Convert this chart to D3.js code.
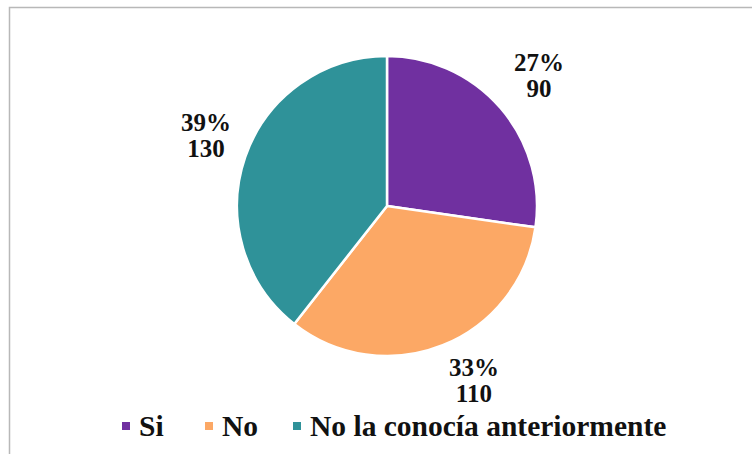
<!DOCTYPE html>
<html>
<head>
<meta charset="utf-8">
<script src="https://cdn.jsdelivr.net/npm/d3@7"></script>
<style>
  html, body { margin: 0; padding: 0; background: #fff; }
  svg { display: block; }
  text { font-family: "Liberation Serif", "Times New Roman", serif; font-weight: bold; fill: #111; }
</style>
</head>
<body>
<svg id="chart" width="752" height="454"></svg>
<script>
// Respuestas por categoría
const categories = ["Si", "No", "No la conocía anteriormente"];
const values = [90, 110, 130];
const colors = ["#7030a0", "#fca865", "#2f9299"];

const svg = d3.select("#chart");
const W = 752, H = 454;

// Chart area frame
svg.append("rect")
  .attr("x", 9.5).attr("y", 7.5)
  .attr("width", W + 10).attr("height", H + 10)
  .attr("fill", "#fff")
  .attr("stroke", "#b8b8b8").attr("stroke-width", 1.5);

const cx = 387, cy = 206, r = 150;
const total = d3.sum(values);

const pie = d3.pie().sort(null).value(d => d)(values);
const arc = d3.arc().innerRadius(0).outerRadius(r);

const g = svg.append("g").attr("transform", `translate(${cx},${cy})`);
g.selectAll("path.slice")
  .data(pie)
  .join("path")
  .attr("class", "slice")
  .attr("d", arc)
  .attr("fill", (d, i) => colors[i])
  .attr("stroke", "#fff")
  .attr("stroke-width", 2.5)
  .attr("stroke-linejoin", "round");

// Data labels outside the pie: percentage and count, on two lines
const labelArc = d3.arc().innerRadius(r * 1.2).outerRadius(r * 1.2);
const fmtPct = d => Math.round(d / total * 100) + "%";
const labelOffsets = [[16, -17], [20, 3], [-11, -16]];
pie.forEach((d, i) => {
  const [x, y] = labelArc.centroid(d);
  const lbl = g.append("g")
    .attr("transform", `translate(${x + labelOffsets[i][0]},${y + labelOffsets[i][1]})`);
  lbl.append("text").attr("text-anchor", "middle").attr("font-size", 25)
    .attr("y", 0).text(fmtPct(d.data));
  lbl.append("text").attr("text-anchor", "middle").attr("font-size", 25)
    .attr("y", 26).text(d.data);
});

// Legend
const legendX = [122, 205, 293];
const lg = svg.append("g").attr("class", "legend");
categories.forEach((c, i) => {
  const item = lg.append("g").attr("transform", `translate(${legendX[i]},436)`);
  item.append("rect").attr("x", 0).attr("y", -14).attr("width", 8).attr("height", 8).attr("fill", colors[i]);
  item.append("text").attr("x", 17).attr("y", 0).attr("font-size", 29.5).text(c);
});
</script>
</body>
</html>
